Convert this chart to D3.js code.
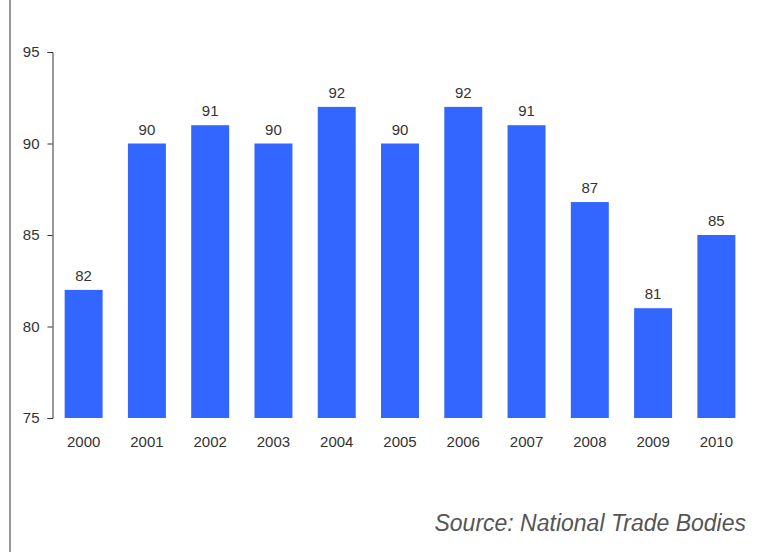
<!DOCTYPE html>
<html>
<head>
<meta charset="utf-8">
<script src="https://cdn.jsdelivr.net/npm/d3@7"></script>
<style>
  html, body { margin: 0; padding: 0; background: #fff; }
  svg { display: block; font-family: "Liberation Sans", Arial, Helvetica, sans-serif; }
</style>
</head>
<body>
<div id="chart"></div>
<script>
// Yearly index values, 2000–2010
const years = ["2000", "2001", "2002", "2003", "2004", "2005", "2006", "2007", "2008", "2009", "2010"];
const values = [82, 90, 91, 90, 92, 90, 92, 91, 86.8, 81, 85];
const yTicks = [75, 80, 85, 90, 95];
const sourceText = "Source: National Trade Bodies";

const width = 776, height = 552;
const labelFont = "15px";
const svg = d3.select("#chart").append("svg")
  .attr("width", width).attr("height", height);

// left border rule
svg.append("line")
  .attr("x1", 10).attr("x2", 10).attr("y1", 0).attr("y2", height)
  .attr("stroke", "#999").attr("stroke-width", 2);

const x = d3.scaleBand().domain(years).range([52, 748]).paddingInner(0.4).paddingOuter(0.2);
const y = d3.scaleLinear().domain([75, 95]).range([418, 52]);

// y axis
const yAxis = svg.append("g")
  .attr("transform", "translate(52.5,0)")
  .call(d3.axisLeft(y).tickValues(yTicks).tickSize(5).tickSizeOuter(5).tickPadding(8));
yAxis.select(".domain").attr("stroke", "#333");
yAxis.selectAll(".tick line").attr("stroke", "#333");
yAxis.selectAll(".tick text").attr("fill", "#333").style("font-size", labelFont)
  .style("font-family", "'Liberation Sans', Arial, sans-serif");

// bars
const data = years.map((yr, i) => ({ year: yr, value: values[i] }));
svg.append("g").selectAll("rect").data(data).join("rect")
  .attr("x", d => x(d.year))
  .attr("width", x.bandwidth())
  .attr("y", d => y(d.value))
  .attr("height", d => y(75) - y(d.value))
  .attr("fill", "#3366ff");

// value labels
svg.append("g").selectAll("text").data(data).join("text")
  .attr("x", d => x(d.year) + x.bandwidth() / 2)
  .attr("y", d => y(d.value) - 9)
  .attr("text-anchor", "middle")
  .attr("fill", "#333")
  .style("font-size", labelFont)
  .text(d => Math.round(d.value));

// x axis labels
const xAxis = svg.append("g")
  .attr("transform", "translate(0,418)")
  .call(d3.axisBottom(x).tickSize(0).tickPadding(18));
xAxis.select(".domain").remove();
xAxis.selectAll(".tick text").attr("fill", "#333").style("font-size", labelFont)
  .style("font-family", "'Liberation Sans', Arial, sans-serif");

// source note
svg.append("text")
  .attr("x", 746).attr("y", 531)
  .attr("text-anchor", "end")
  .attr("fill", "#555")
  .style("font-size", "23px")
  .style("font-style", "italic")
  .text(sourceText);
</script>
</body>
</html>
